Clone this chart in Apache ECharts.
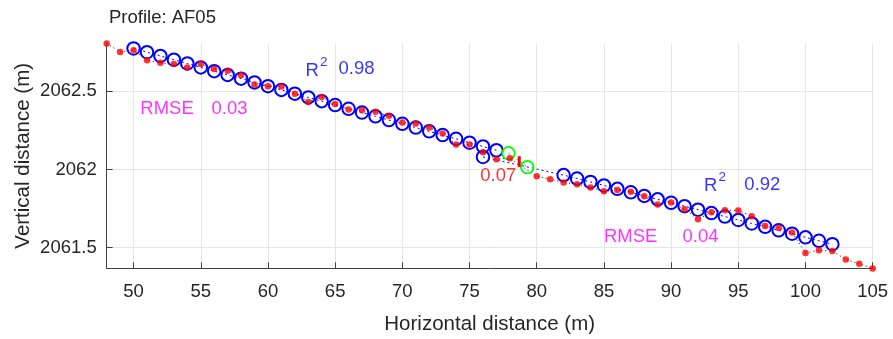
<!DOCTYPE html>
<html>
<head>
<meta charset="utf-8">
<script src="https://cdn.jsdelivr.net/npm/echarts@6/dist/echarts.min.js"></script>
<style>
  html, body { margin: 0; padding: 0; background: #fff; }
  #chart { width: 893px; height: 339px; }
</style>
</head>
<body>
<div id="chart"></div>
<script>
// Surveyed profile points (horizontal distance, elevation)
const profileX = [48, 49, 50, 51, 52, 53, 54, 55, 56, 57, 58, 59, 60, 61, 62, 63, 64, 65, 66, 67,
  68, 69, 70, 71, 72, 73, 74, 75, 76, 77, 78, 80, 81, 82, 83, 84, 85, 86, 87, 88, 89, 90, 91, 92,
  93, 94, 95, 96, 97, 98, 99, 100, 101, 102, 103, 104, 105];
const profileY = [2062.806, 2062.752, 2062.763, 2062.699, 2062.682, 2062.674, 2062.653, 2062.674,
  2062.642, 2062.631, 2062.603, 2062.544, 2062.533, 2062.531, 2062.484, 2062.432, 2062.464,
  2062.418, 2062.384, 2062.379, 2062.369, 2062.343, 2062.301, 2062.294, 2062.269, 2062.230,
  2062.159, 2062.160, 2062.111, 2062.066, 2062.072, 2061.957, 2061.938, 2061.917, 2061.906,
  2061.885, 2061.861, 2061.868, 2061.857, 2061.829, 2061.776, 2061.789, 2061.746, 2061.682,
  2061.727, 2061.740, 2061.738, 2061.701, 2061.639, 2061.626, 2061.597, 2061.466, 2061.484,
  2061.479, 2061.424, 2061.397, 2061.367];

// Upper segment linear fit
const upperFitX = [50, 51, 52, 53, 54, 55, 56, 57, 58, 59, 60, 61, 62, 63, 64, 65, 66, 67, 68, 69,
  70, 71, 72, 73, 74, 75, 76, 77];
const upperFitY = [2062.774, 2062.750, 2062.726, 2062.702, 2062.678, 2062.653, 2062.629, 2062.605,
  2062.581, 2062.557, 2062.533, 2062.509, 2062.485, 2062.461, 2062.437, 2062.412, 2062.388,
  2062.364, 2062.340, 2062.316, 2062.292, 2062.268, 2062.244, 2062.220, 2062.196, 2062.171,
  2062.147, 2062.123];

// Lower segment linear fit
const lowerFitX = [76, 82, 83, 84, 85, 86, 87, 88, 89, 90, 91, 92, 93, 94, 95, 96, 97, 98, 99,
  100, 101, 102];
const lowerFitY = [2062.080, 2061.964, 2061.942, 2061.920, 2061.898, 2061.876, 2061.854, 2061.831,
  2061.809, 2061.787, 2061.765, 2061.743, 2061.721, 2061.699, 2061.677, 2061.655, 2061.633,
  2061.611, 2061.589, 2061.566, 2061.544, 2061.522];

// Segment ends at the break
const breakEndX = [77.9, 79.3];
const breakEndY = [2062.104, 2062.015];

// Vertical offset at the break (0.07 m)
const offsetX = 78.7;
const offsetTop = 2062.085;
const offsetBottom = 2062.015;

// Axis ticks
const xTicks = [50, 55, 60, 65, 70, 75, 80, 85, 90, 95, 100, 105];
const yTicks = [2061.5, 2062, 2062.5];

// Statistics annotations: [x, y, text, colour]
const notes = [
  [62.8, 2062.629, 'R{s|2}', '#0000ff'],
  [65.25, 2062.642, '0.98', '#0000ff'],
  [50.5, 2062.390, 'RMSE', '#ff00ff'],
  [55.8, 2062.390, '0.03', '#ff00ff'],
  [75.8, 2061.960, '0.07', '#ff0000'],
  [92.45, 2061.893, 'R{s|2}', '#0000ff'],
  [95.45, 2061.899, '0.92', '#0000ff'],
  [85.0, 2061.567, 'RMSE', '#ff00ff'],
  [90.85, 2061.567, '0.04', '#ff00ff']
];

const zip = (xs, ys) => xs.map((x, i) => [x, ys[i]]);
const FONT = '"Liberation Sans", Arial, Helvetica, sans-serif';
const AXIS_TXT = '#262626';

const chart = echarts.init(document.getElementById('chart'), null, { renderer: 'canvas' });

chart.setOption({
  animation: false,
  backgroundColor: '#ffffff',
  textStyle: { fontFamily: FONT },
  title: {
    text: 'Profile: AF05',
    left: 104,
    top: 3,
    textStyle: { fontFamily: FONT, fontSize: 18.5, fontWeight: 'normal', color: AXIS_TXT }
  },
  grid: {
    left: 106.7, right: 20.3, top: 43.3, bottom: 70.7,
    containLabel: false, outerBoundsMode: 'none'
  },
  xAxis: {
    type: 'value',
    min: 48,
    max: 105,
    name: 'Horizontal distance (m)',
    nameLocation: 'middle',
    nameGap: 46,
    nameMoveOverlap: false,
    nameTextStyle: { fontFamily: FONT, fontSize: 20.5, color: AXIS_TXT },
    axisLine: { show: true, onZero: false, lineStyle: { color: '#404040', width: 1 } },
    axisTick: { show: true, inside: true, length: 6, customValues: xTicks,
      lineStyle: { color: '#404040', width: 1 } },
    axisLabel: { customValues: xTicks, margin: 14, fontFamily: FONT, fontSize: 18.5, color: AXIS_TXT },
    splitLine: { show: true, lineStyle: { color: '#e6e6e6', width: 1 } }
  },
  yAxis: {
    type: 'value',
    min: 2061.368,
    max: 2062.807,
    name: 'Vertical distance (m)',
    nameLocation: 'middle',
    nameRotate: 90,
    nameGap: 73,
    nameMoveOverlap: false,
    nameTextStyle: { fontFamily: FONT, fontSize: 20.5, color: AXIS_TXT },
    axisLine: { show: true, onZero: false, lineStyle: { color: '#404040', width: 1 } },
    axisTick: { show: true, inside: true, length: 6, customValues: yTicks,
      lineStyle: { color: '#404040', width: 1 } },
    axisLabel: {
      customValues: yTicks, margin: 10, fontFamily: FONT, fontSize: 18.5, color: AXIS_TXT,
      formatter: v => String(+v.toFixed(1))
    },
    splitLine: { show: true, lineStyle: { color: '#e6e6e6', width: 1 } }
  },
  series: [
    {
      // dotted profile trace
      type: 'line',
      data: zip(profileX, profileY),
      symbol: 'none',
      clip: false,
      lineStyle: { color: '#000000', width: 1, type: [1, 3] },
      z: 2
    },
    {
      type: 'line',
      data: zip(upperFitX, upperFitY),
      symbol: 'circle',
      symbolSize: 12.5,
      clip: false,
      itemStyle: { color: 'rgba(0,0,0,0)', borderColor: '#0000ff', borderWidth: 2 },
      lineStyle: { color: '#0000ff', width: 1, type: [2, 3] },
      z: 3
    },
    {
      type: 'line',
      data: zip(lowerFitX, lowerFitY),
      symbol: 'circle',
      symbolSize: 12.5,
      clip: false,
      itemStyle: { color: 'rgba(0,0,0,0)', borderColor: '#0000ff', borderWidth: 2 },
      lineStyle: { color: '#0000ff', width: 1, type: [2, 3] },
      z: 3
    },
    {
      type: 'line',
      data: zip(breakEndX, breakEndY),
      symbol: 'circle',
      symbolSize: 12.5,
      clip: false,
      itemStyle: { color: 'rgba(0,0,0,0)', borderColor: '#00ff00', borderWidth: 1.8 },
      lineStyle: { color: '#00cc00', width: 1, type: [2, 3] },
      z: 3
    },
    {
      type: 'line',
      data: [[offsetX, offsetTop], [offsetX, offsetBottom]],
      symbol: 'none',
      clip: false,
      lineStyle: { color: '#ff0000', width: 3 },
      z: 4
    },
    {
      type: 'scatter',
      data: zip(profileX, profileY),
      symbol: 'circle',
      symbolSize: 6.5,
      clip: false,
      itemStyle: { color: '#ff0000' },
      z: 5
    },
    {
      type: 'scatter',
      symbolSize: 0,
      silent: true,
      clip: false,
      z: 6,
      data: notes.map(n => ({
        value: [n[0], n[1]],
        label: { color: n[3] },
        txt: n[2]
      })),
      label: {
        show: true,
        position: 'right',
        distance: 0,
        fontFamily: FONT,
        fontSize: 18.5,
        lineHeight: 32,
        formatter: p => p.data.txt,
        rich: {
          s: { fontSize: 13.5, lineHeight: 13.5, verticalAlign: 'top', padding: [0, 0, 0, 1] }
        }
      }
    }
  ]
});
</script>
</body>
</html>
